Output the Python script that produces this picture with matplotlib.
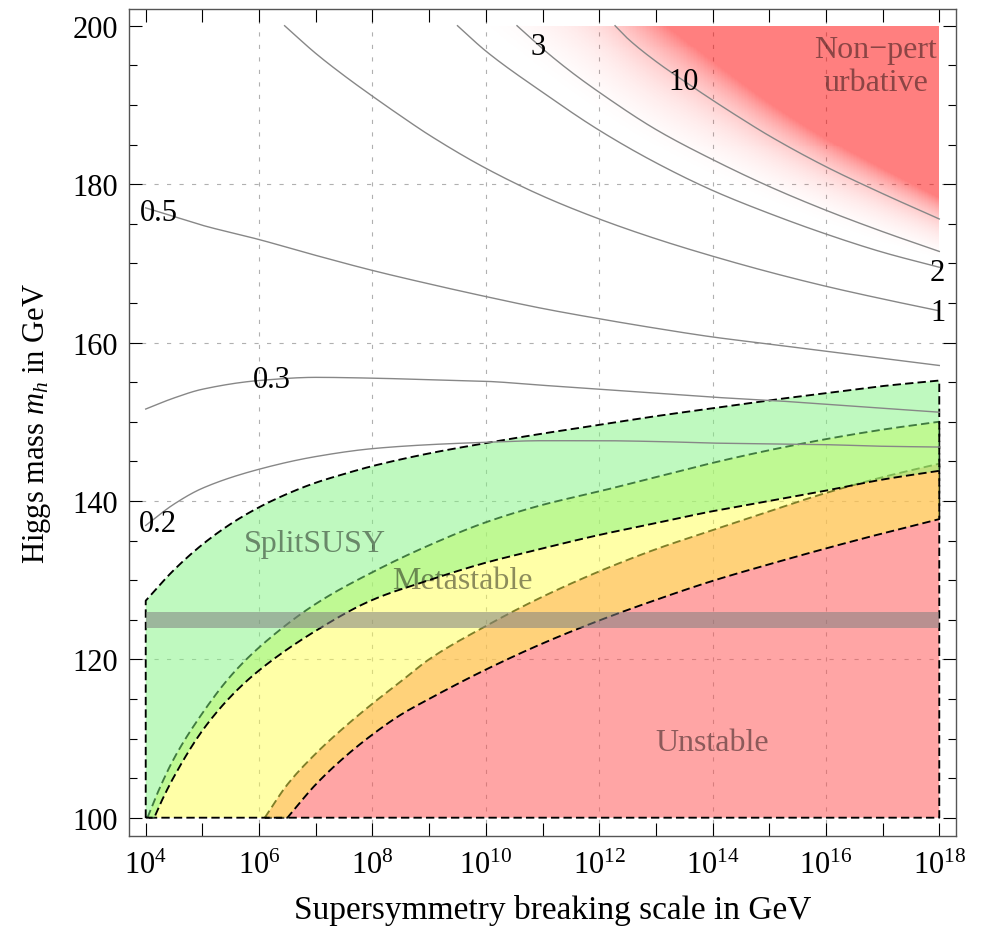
import numpy as np
import matplotlib
matplotlib.use("Agg")
import matplotlib.pyplot as plt
from matplotlib.colors import LinearSegmentedColormap
from matplotlib.ticker import FixedLocator, FixedFormatter, NullLocator, NullFormatter

plt.rcParams['font.family'] = ['Liberation Serif', 'DejaVu Serif']
plt.rcParams['mathtext.fontset'] = 'custom'
plt.rcParams['mathtext.rm'] = 'Liberation Serif'
plt.rcParams['mathtext.it'] = 'Liberation Serif:italic'
plt.rcParams['lines.scale_dashes'] = False

# ---- region boundaries: log10(SUSY scale / GeV) vs Higgs mass (GeV) ----
split_upper_lx = [4, 4.5, 5, 5.5, 6, 6.5, 7, 7.5, 8, 9, 10, 11, 12, 13, 14, 15, 16, 17, 18]
split_upper_mh = [127.4, 131.3, 134.5, 137.1, 139.2, 140.9, 142.3, 143.4, 144.4, 146.0,
                  147.3, 148.5, 149.6, 150.7, 151.7, 152.7, 153.6, 154.5, 155.2]

split_lower_lx = [4.15, 4.3, 4.5, 5, 5.5, 6, 7, 8, 9, 10, 11, 12, 13, 14, 15, 16, 17, 18]
split_lower_mh = [100.0, 102.4, 105.2, 111.0, 115.3, 118.6, 123.6, 127.5, 130.0,
                  132.2, 134.0, 135.7, 137.2, 138.7, 140.0, 141.3, 142.7, 143.8]

meta_upper_lx = [4.03, 4.25, 4.5, 5, 5.5, 6, 7, 8, 9, 10, 11, 12, 13, 14, 15, 16, 17, 18]
meta_upper_mh = [100.0, 103.8, 107.5, 113.2, 117.9, 121.5, 127.0, 131.0, 134.4,
                 137.3, 139.5, 141.2, 143.0, 144.8, 146.4, 147.8, 149.0, 150.0]

meta_lower_lx = [6.5, 7, 7.5, 8, 8.5, 9, 10, 11, 12, 13, 14, 15, 16, 17, 18]
meta_lower_mh = [100.0, 104.2, 107.6, 110.5, 113.0, 115.0, 118.7, 122.0, 124.9,
                 127.5, 129.9, 132.0, 134.0, 135.9, 137.7]

unstable_lx = [6.1, 6.5, 7, 7.5, 8, 8.5, 9, 10, 11, 12, 13, 14, 15, 16, 17, 18]
unstable_mh = [100.0, 104.2, 108.1, 111.4, 114.4, 117.2, 120.0, 124.2, 127.9,
               131.1, 133.9, 136.3, 138.7, 141.0, 143.0, 144.7]

mh_floor = 100.0
higgs_band = (124.0, 126.0)

# ---- coupling contours ----
base_lx = [4, 4.5, 5, 6, 7, 8, 9, 10, 11, 12, 13, 14, 15, 16, 17, 18]
c02_mh = [136.9, 139.6, 141.6, 144.0, 145.6, 146.6, 147.1, 147.4, 147.6, 147.6,
          147.5, 147.3, 147.2, 147.1, 146.9, 146.8]
c03_mh = [151.6, 153.0, 154.1, 155.2, 155.6, 155.5, 155.3, 155.1, 154.6, 154.1,
          153.6, 153.1, 152.7, 152.2, 151.7, 151.2]
c05_mh = [177.0, 175.9, 174.8, 173.0, 171.0, 169.1, 167.4, 165.8, 164.3, 163.0,
          161.8, 160.7, 159.8, 158.9, 158.0, 157.1]
c1_lx = [6.45, 7, 7.5, 8, 8.5, 9, 10, 11, 12, 13, 14, 15, 16, 17, 18]
c1_mh = [200.0, 196.5, 193.7, 191.1, 188.6, 186.2, 182.0, 178.5, 175.6, 173.1,
         170.9, 168.9, 167.1, 165.5, 164.0]
c2_lx = [9.5, 10, 11, 12, 13, 14, 15, 16, 17, 18]
c2_mh = [200.0, 196.8, 191.6, 186.8, 182.7, 179.2, 176.3, 173.7, 171.4, 169.5]
c3_lx = [10.55, 11, 11.5, 12, 13, 14, 15, 16, 17, 18]
c3_mh = [200.0, 197.1, 194.2, 191.6, 186.9, 183.1, 179.7, 176.7, 174.0, 171.5]
c10_lx = [12.28, 12.5, 13, 13.5, 14, 14.5, 15, 16, 17, 18]
c10_mh = [200.0, 198.4, 195.5, 193.0, 190.6, 188.3, 186.1, 182.2, 178.8, 175.6]

contour_labels = ['0.2', '0.3', '0.5', '1', '2', '3', '10']
contour_label_lx = [4.21, 6.22, 4.23, 17.97, 17.96, 10.92, 13.48]
contour_label_mh = [137.1, 155.3, 176.4, 163.8, 168.9, 197.4, 192.9]

x_tick_exp = list(range(4, 19))
y_major = [100, 120, 140, 160, 180, 200]
y_minor = list(range(100, 201, 5))

RED = '#ff4d4d'
YELLOW = '#ffff51'
GREEN = '#81f581'


def pchip(xs, ys, xn):
    """Monotone cubic (Fritsch-Carlson) interpolation for smooth curves."""
    x = np.asarray(xs, float)
    y = np.asarray(ys, float)
    h = np.diff(x)
    d = np.diff(y) / h
    n = len(x)
    m = np.zeros(n)
    for k in range(1, n - 1):
        if d[k - 1] * d[k] > 0:
            w1 = 2 * h[k] + h[k - 1]
            w2 = h[k] + 2 * h[k - 1]
            m[k] = (w1 + w2) / (w1 / d[k - 1] + w2 / d[k])
    m[0] = d[0]
    m[-1] = d[-1]
    xn = np.asarray(xn, float)
    i = np.clip(np.searchsorted(x, xn) - 1, 0, n - 2)
    t = (xn - x[i]) / h[i]
    h00 = 2 * t ** 3 - 3 * t ** 2 + 1
    h10 = t ** 3 - 2 * t ** 2 + t
    h01 = -2 * t ** 3 + 3 * t ** 2
    h11 = t ** 3 - t ** 2
    return h00 * y[i] + h10 * h[i] * m[i] + h01 * y[i + 1] + h11 * h[i] * m[i + 1]


def smooth(xs, ys, num=300):
    xn = np.linspace(xs[0], xs[-1], num)
    return xn, pchip(xs, ys, xn)


def ext(grid, xs, ys):
    """Smooth curve on grid, extended linearly past the first point."""
    xs = np.asarray(xs, float)
    ys = np.asarray(ys, float)
    out = pchip(xs, ys, np.clip(grid, xs[0], xs[-1]))
    lo = grid < xs[0]
    out[lo] = ys[0] + (grid[lo] - xs[0]) * (ys[1] - ys[0]) / (xs[1] - xs[0])
    return out


def P(lx):
    return 10.0 ** np.asarray(lx, float)


fig = plt.figure(figsize=(9.89, 9.45), dpi=100)
ax = fig.add_axes([129 / 989, 1 - 837 / 945, 827 / 989, 827 / 945])
ax.set_xscale('log')
ax.set_xlim(10 ** 3.705, 10 ** 18.295)
ax.set_ylim(97.69, 202.11)

# grid
grid_style = dict(color='#b0b0b0', lw=0.8, linestyle=(0, (3, 6)), zorder=0.5)
for e in range(6, 17, 2):
    ax.axvline(10.0 ** e, **grid_style)
for v in [120, 140, 160, 180]:
    ax.axhline(v, **grid_style)

# non-perturbative shading built from the 2, 3 and 10 contours
nx, ny = 560, 400
gx_e = np.linspace(4, 18, nx + 1)
gy_e = np.linspace(150, 200, ny + 1)
gx = 0.5 * (gx_e[1:] + gx_e[:-1])
gy = 0.5 * (gy_e[1:] + gy_e[:-1])
Y2 = ext(gx, c2_lx, c2_mh)[None, :]
Y3 = ext(gx, c3_lx, c3_mh)[None, :]
Y10 = ext(gx, c10_lx, c10_mh)[None, :]
GY = gy[:, None]
l2, l3, l10 = np.log(2), np.log(3), np.log(10)
lnL = np.where(GY <= Y3,
               l2 + (GY - Y2) * (l3 - l2) / (Y3 - Y2),
               l3 + (GY - Y3) * (l10 - l3) / (Y10 - Y3))
L = np.exp(lnL)
s = np.clip((L - 2.4) / (22.0 - 2.4), 0, 1)
cmap_np = LinearSegmentedColormap.from_list('np', [(1, 0, 0, 0), (1, 0, 0, 0.5)])
ax.pcolormesh(P(gx_e), gy_e, s, cmap=cmap_np, vmin=0, vmax=1, shading='flat',
              antialiased=False, edgecolors='none', linewidth=0, zorder=1,
              rasterized=True)

dash = dict(color='black', lw=1.35, dashes=(6.0, 3.0))


def region(lx_poly, mh_poly, color, z):
    ax.fill(P(lx_poly), mh_poly, facecolor=color, alpha=0.5, edgecolor='none', zorder=z)
    ax.plot(P(np.append(lx_poly, lx_poly[0])), np.append(mh_poly, mh_poly[0]),
            zorder=z + 0.1, **dash)


su_x, su_y = smooth(split_upper_lx, split_upper_mh)
sl_x, sl_y = smooth(split_lower_lx, split_lower_mh)
mu_x, mu_y = smooth(meta_upper_lx, meta_upper_mh)
ml_x, ml_y = smooth(meta_lower_lx, meta_lower_mh)
un_x, un_y = smooth(unstable_lx, unstable_mh)

# Unstable
region(np.concatenate([un_x, [18]]), np.concatenate([un_y, [mh_floor]]), RED, 3)

# Metastable
region(np.concatenate([mu_x, ml_x[::-1]]), np.concatenate([mu_y, ml_y[::-1]]), YELLOW, 4)

# SplitSUSY
region(np.concatenate([[4], su_x, sl_x[::-1]]),
       np.concatenate([[mh_floor], su_y, sl_y[::-1]]), GREEN, 5)

# measured Higgs mass band
ax.fill_between(P([4, 18]), higgs_band[0], higgs_band[1], color='#808080',
                alpha=0.55, lw=0, zorder=6)

# contour lines
cline = dict(color='#878787', lw=1.0, zorder=6.5)
for lxs, mhs in [(base_lx, c02_mh), (base_lx, c03_mh), (base_lx, c05_mh),
                 (c1_lx, c1_mh), (c2_lx, c2_mh), (c3_lx, c3_mh), (c10_lx, c10_mh)]:
    cx, cy = smooth(lxs, mhs)
    ax.plot(P(cx), cy, **cline)

for lab, lx, mh in zip(contour_labels, contour_label_lx, contour_label_mh):
    ax.text(10 ** lx, mh, lab, fontsize=22, ha='center', va='center', zorder=8)

# region labels
lab_kw = dict(fontsize=23, ha='center', va='center', color='black', alpha=0.45, zorder=8)
ax.text(10 ** 6.98, 134.6, 'SplitSUSY', **lab_kw)
ax.text(10 ** 9.59, 129.9, 'Metastable', **lab_kw)
ax.text(10 ** 14.0, 109.5, 'Unstable', **lab_kw)
ax.text(10 ** 16.88, 194.9, 'Non\u2212pert\nurbative', linespacing=1.15, **lab_kw)

# axes styling
ax.xaxis.set_major_locator(FixedLocator([10.0 ** e for e in x_tick_exp]))
ax.xaxis.set_major_formatter(FixedFormatter(
    [r'$10^{%d}$' % e if e % 2 == 0 else '' for e in x_tick_exp]))
ax.xaxis.set_minor_locator(NullLocator())
ax.yaxis.set_major_locator(FixedLocator(y_major))
ax.yaxis.set_minor_locator(FixedLocator(y_minor))
ax.yaxis.set_minor_formatter(NullFormatter())
ax.tick_params(which='both', direction='in', top=True, right=True, color='black',
               width=0.8, labelsize=22)
ax.tick_params(which='major', length=9.5)
ax.tick_params(which='minor', length=5.5)
ax.tick_params(axis='x', pad=11)
ax.tick_params(axis='y', pad=8)
for sp in ax.spines.values():
    sp.set_color('#555555')
    sp.set_linewidth(1.0)

ax.set_xlabel('Supersymmetry breaking scale in GeV', fontsize=24)
ax.xaxis.set_label_coords(0.5127, -0.07)
ax.set_ylabel(r'Higgs mass $m_h$ in GeV', fontsize=22, labelpad=14)

fig.savefig('out.png', dpi=100)
